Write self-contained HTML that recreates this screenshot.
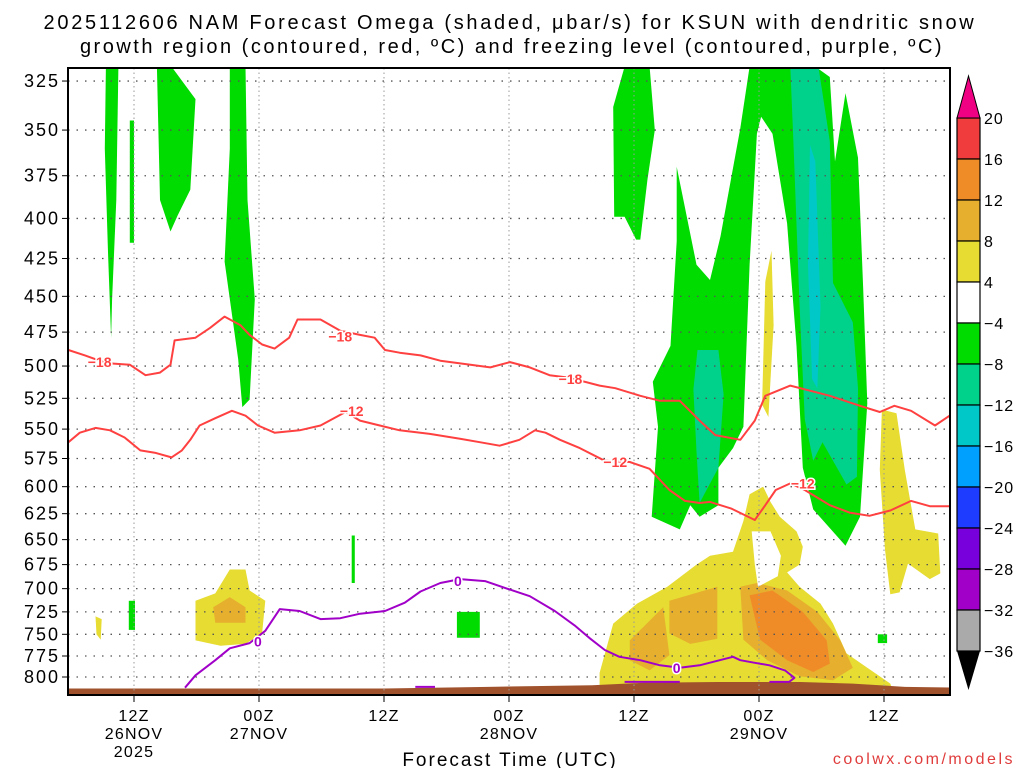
<!DOCTYPE html>
<html><head><meta charset="utf-8"><style>
html,body{margin:0;padding:0;background:#fff;width:1024px;height:768px;overflow:hidden}
svg{display:block}
text{font-family:"Liberation Sans",sans-serif}
</style></head><body>
<svg id="chart" width="1024" height="768" viewBox="0 0 1024 768">
<text x="510" y="29" text-anchor="middle" font-size="20" letter-spacing="2.7">2025112606 NAM Forecast Omega (shaded, μbar/s) for KSUN with dendritic snow</text>
<text x="512" y="53" text-anchor="middle" font-size="20" letter-spacing="2.5">growth region (contoured, red, ºC) and freezing level (contoured, purple, ºC)</text>
<defs><clipPath id="pc"><rect x="68" y="68" width="882" height="627"/></clipPath></defs>
<g id="plot" clip-path="url(#pc)"></g>
<rect x="68" y="68" width="882" height="627" fill="none" stroke="#000" stroke-width="2"/>
<g id="axes"></g>
<g id="cbar"></g>
<text x="510" y="766" text-anchor="middle" font-size="19" letter-spacing="2">Forecast Time (UTC)</text>
<text x="1015" y="764" text-anchor="end" font-size="16" letter-spacing="2.5" fill="#e03c3c">coolwx.com/models</text>
</svg>
<script>
// hours since 06Z 26NOV, pressure hPa
const pressureTicks=[325,350,375,400,425,450,475,500,525,550,575,600,625,650,675,700,725,750,775,800];
const timeTickHours=[6,18,30,42,54,66,78];
const timeTickLabels=[["12Z","26NOV","2025"],["00Z","27NOV"],["12Z"],["00Z","28NOV"],["12Z"],["00Z","29NOV"],["12Z"]];
const cbarColors=["#f03c3c","#f08c28","#e6af2d","#e6dc32","#ffffff","#00dc00","#00d28c","#00c8c8","#00a0ff","#1e3cff","#7800dc","#a000c8","#aaaaaa"];
const cbarLabels=["20","16","12","8","4","−4","−8","−12","−16","−20","−24","−28","−32","−36"];
const yellowRegions=[
 [[2.3,730],[2.9,733],[2.8,756],[2.4,750]],
 [[11.9,713],[13.8,705],[15.2,680],[16.7,680],[17.1,702],[18.6,713],[18.3,749],[16.7,761],[14.3,763],[11.9,757]],
 [[50.7,795],[52.0,738],[54.3,716],[57.2,698],[60.0,675],[61.3,666],[63.5,662],[64.5,632],[65.1,607],[66.4,600],[67.1,614],[68.0,628],[69.6,642],[70.2,657],[69.9,675],[68.7,683],[69.9,698],[71.9,716],[73.1,738],[74.4,772],[76.4,789],[78.6,808],[78.8,815],[50.7,815]],
 [[66.3,530],[66.6,440],[67.2,420],[67.4,470],[66.9,540]],
 [[77.8,534],[79.2,537],[80.0,585],[81.0,640],[83.2,644],[83.4,684],[82.4,690],[80.3,674],[79.5,704],[78.6,706],[78.1,660],[77.6,585]]
];
const orangeRegions=[
 [[13.6,720],[15.2,709],[16.7,720],[16.7,737],[13.8,737]],
 [[53.6,757],[56.8,720],[57.4,774],[55.5,792],[53.6,780]],
 [[57.4,713],[62.0,698],[62.0,755],[59.4,761],[57.4,749]],
 [[64.2,698],[65.8,694],[68.7,702],[71.6,725],[73.8,757],[75.0,789],[73.1,804],[69.9,799],[66.8,780],[64.5,756]]
];
const darkOrangeRegions=[
 [[65.1,707],[67.3,702],[70.2,725],[72.5,757],[72.8,784],[71.2,794],[68.7,780],[66.1,756]]
];
const whiteHoles=[
 [[65.3,642],[67.1,642],[68.1,666],[67.8,687],[65.9,698],[65.6,675]]
];
const greenRegions=[
 [[3.3,318],[4.5,318],[4.3,389],[3.9,452],[3.8,479],[3.5,421],[3.2,360]],
 [[5.6,345],[6.0,345],[6.0,415],[5.6,415]],
 [[8.2,318],[9.6,318],[11.9,334],[11.4,383],[10.2,398],[9.5,408],[8.5,389]],
 [[15.2,318],[16.7,318],[16.9,389],[17.6,452],[17.1,526],[16.4,532],[16.0,495],[14.7,427],[15.2,360]],
 [[5.5,713],[6.1,713],[6.1,745],[5.5,745]],
 [[37.0,725],[39.2,725],[39.2,754],[37.0,754]],
 [[26.9,646],[27.2,646],[27.2,694],[26.9,694]],
 [[77.4,750],[78.3,750],[78.3,760],[77.4,760]],
 [[52.0,338],[53.1,318],[55.5,318],[56.0,350],[55.3,377],[54.6,413],[54.2,413],[53.1,399],[52.1,399]],
 [[65.1,318],[64.2,349],[62.3,411],[61.3,439],[60.0,429],[58.1,370],[58.1,414],[57.5,485],[55.8,512],[56.3,548],[55.7,628],[58.4,640],[59.4,617],[60.3,628],[62.1,617],[62.1,583],[63.5,566],[64.5,548],[65.1,429],[65.8,352],[66.2,343],[67.3,352],[68.7,403],[69.6,485],[70.2,583],[71.2,621],[74.3,656],[75.7,628],[76.4,529],[76.0,445],[75.5,365],[74.3,331],[73.3,367],[72.8,323],[71.4,318]]
];
const tealRegions=[
 [[60.1,488],[62.1,488],[62.6,522],[62.1,583],[60.3,615],[60.0,569],[59.7,518]],
 [[69.0,318],[71.7,318],[72.8,356],[73.1,441],[75.0,468],[75.5,517],[75.4,591],[74.4,598],[72.1,561],[71.2,577],[70.4,542],[69.9,457],[69.3,356]]
];
const cyanRegions=[
 [[70.9,358],[71.4,367],[71.9,457],[71.6,517],[71.1,510],[70.7,429]]
];
const groundHours=[-1,30,40,50,55,62,70,75,80,86];
const groundPressure=[814,814,812,810,807,806,806,808,812,813];
const m18Hours=[-0.3,1.3,2.7,3.7,5.6,7.1,8.5,9.5,9.9,11.9,13.3,14.7,16.2,17.1,18.3,19.5,20.9,21.7,23.9,25.8,27.7,29.1,30.1,31.5,33.5,35.4,38.3,40.2,42.1,44.0,45.9,47.8,50.7,52.2,54.6,56.5,58.4,60.3,61.8,64.2,65.6,66.6,69.0,70.9,72.8,75.7,77.6,79.0,80.6,82.9,84.3];
const m18Pres=[488,492,496,498,499,507,505,499,481,479,472,464,470,477,484,487,479,466,466,474,477,479,488,490,492,496,499,501,497,501,507,509,515,517,523,527,527,543,555,559,543,523,515,519,523,531,536,531,535,547,539];
const m12Hours=[-0.3,0.8,2.3,3.7,5.1,6.6,8.0,9.6,10.6,11.4,12.3,13.8,15.4,16.7,17.9,19.5,21.9,23.9,26.3,27.7,29.6,31.5,34.4,37.3,39.2,41.1,43.0,44.5,45.5,46.9,48.8,51.2,53.6,55.5,57.4,58.9,60.3,61.3,63.3,65.6,66.6,67.6,69.0,70.4,72.8,74.7,76.6,78.6,80.6,82.4,84.3];
const m12Pres=[561,553,549,551,557,568,570,574,568,559,547,541,535,539,547,553,551,547,536,543,547,551,554,558,561,564,559,551,553,559,566,577,578,584,603,613,615,614,620,631,617,603,597,603,617,624,627,622,613,618,618];
const zeroHours=[10.9,11.9,13.8,15.2,17.1,18.6,20.0,21.9,23.9,25.8,27.7,30.1,32.0,33.5,35.4,37.3,39.7,42.1,44.0,46.4,48.3,49.8,51.2,52.6,54.6,56.5,58.4,60.3,63.5,64.2,65.6,67.0,68.5,69.4,68.9,67.0];
const zeroPres=[813,798,780,766,760,746,722,724,733,732,727,724,715,703,694,690,692,701,708,724,740,755,768,776,780,786,789,786,776,780,783,786,792,801,806,806];
const zeroSegHours=[[33.0,34.9],[53.1,58.4]];
const zeroSegPres=[[812,812],[806,806]];
const contourLabels=[["−18",2.7,497,"#ff4040"],["−18",25.8,478,"#ff4040"],["−18",47.9,510,"#ff4040"],["−12",26.9,535,"#ff4040"],["−12",52.2,578,"#ff4040"],["−12",70.2,597,"#ff4040"],["0",17.9,758,"#a000c8"],["0",37.1,692,"#a000c8"],["0",58.1,789,"#a000c8"]];

const NS="http://www.w3.org/2000/svg";
function X(h){return 71.5+h*125/12;}
function Y(p){return 677+661.6*Math.log(p/800);}
function mk(tag,attrs,parent){const e=document.createElementNS(NS,tag);for(const k in attrs)e.setAttribute(k,attrs[k]);parent.appendChild(e);return e;}
const plot=document.getElementById('plot'),axes=document.getElementById('axes'),cb=document.getElementById('cbar');
function polys(list,color,name){list.forEach(pts=>{const e=mk('polygon',{points:pts.map(q=>X(q[0]).toFixed(1)+','+Y(q[1]).toFixed(1)).join(' '),fill:color},plot);

});}
polys(yellowRegions,'#e6dc32','omega-4-8-region');
polys(orangeRegions,'#e6af2d','omega-8-12-region');
polys(darkOrangeRegions,'#f08c28','omega-12-16-region');
polys(whiteHoles,'#ffffff','omega-neutral-region');
polys(greenRegions,'#00dc00','omega-minus4-minus8-region');
polys(tealRegions,'#00d28c','omega-minus8-minus12-region');
polys(cyanRegions,'#00c8c8','omega-minus12-minus16-region');
let gp=groundHours.map((h,i)=>X(h)+','+Y(groundPressure[i])).join(' ')+' '+X(86)+',700 '+X(-1)+',700';
const g=mk('polygon',{points:gp,fill:'#a0522d'},plot);


pressureTicks.forEach(p=>{const l=mk('line',{x1:68,x2:950,y1:Y(p),y2:Y(p),stroke:'#555','stroke-width':1.3,'stroke-dasharray':'1.5 7'},plot);

});
timeTickHours.forEach(h=>{const l=mk('line',{x1:X(h),x2:X(h),y1:68,y2:695,stroke:'#999','stroke-width':1,'stroke-dasharray':'1.5 3'},plot);

});
function line(hs,ps,color,name,w){const e=mk('polyline',{points:hs.map((h,i)=>X(h).toFixed(1)+','+Y(ps[i]).toFixed(1)).join(' '),fill:'none',stroke:color,'stroke-width':w,'stroke-linejoin':'round'},plot);

}
line(m18Hours,m18Pres,'#ff4040','contour-minus18',2);
line(m12Hours,m12Pres,'#ff4040','contour-minus12',2);
line(zeroHours,zeroPres,'#a000c8','freezing-level-0',2);
zeroSegHours.forEach((hs,i)=>line(hs,zeroSegPres[i],'#a000c8','freezing-level-segment',2));
contourLabels.forEach(c=>{const bx=X(c[1]),by=Y(c[2]);
const t=mk('text',{x:bx,y:by+5,'text-anchor':'middle','font-size':14,'font-weight':'bold',fill:c[3],stroke:'#fff','stroke-width':3,'paint-order':'stroke'},plot);t.textContent=c[0];

});
pressureTicks.forEach(p=>{const t=mk('text',{x:60,y:Y(p)+6,'text-anchor':'end','font-size':18,'letter-spacing':2},axes);t.textContent=p;


mk('line',{x1:62,x2:68,y1:Y(p),y2:Y(p),stroke:'#000'},axes);});
timeTickHours.forEach((h,i)=>{mk('line',{x1:X(h),x2:X(h),y1:695,y2:702,stroke:'#000'},axes);
timeTickLabels[i].forEach((s,j)=>{const t=mk('text',{x:X(h),y:721+j*18,'text-anchor':'middle','font-size':16,'letter-spacing':1.2},axes);t.textContent=s;

});});
const cbX=957,cbW=23,cbTop=118,cbH=41;
cbarColors.forEach((c,i)=>{const r=mk('rect',{x:cbX,y:cbTop+i*cbH,width:cbW,height:cbH,fill:c,stroke:'#000','stroke-width':1.2},cb);

});
cbarLabels.forEach((s,i)=>{const t=mk('text',{x:984,y:cbTop+i*cbH+6,'font-size':16,'letter-spacing':1},cb);t.textContent=s;

});
const tu=mk('polygon',{points:`${cbX},${cbTop} ${cbX+cbW},${cbTop} ${cbX+cbW/2},76`,fill:'#f00082',stroke:'#000'},cb);


const td=mk('polygon',{points:`${cbX},${cbTop+13*cbH} ${cbX+cbW},${cbTop+13*cbH} ${cbX+cbW/2},690`,fill:'#000'},cb);


</script>
</body></html>
